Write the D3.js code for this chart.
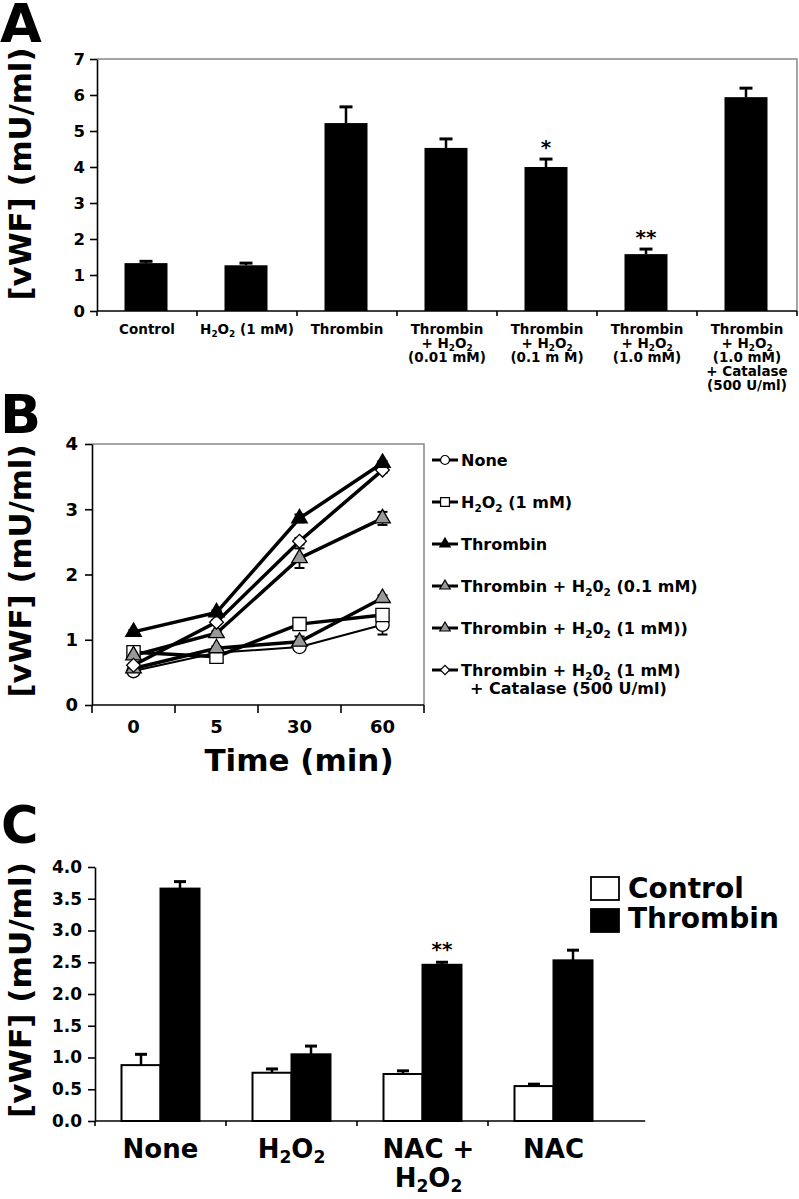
<!DOCTYPE html>
<html><head><meta charset="utf-8">
<script src="https://cdn.jsdelivr.net/npm/d3@7"></script>
<style>
body{margin:0;background:#fff}
svg{display:block}
text{font-family:"DejaVu Sans",sans-serif;font-weight:bold;fill:#000}
</style>
</head><body>
<svg id="chart" width="799" height="1199"></svg>
<script>
// ---------------- Panel A data ----------------
const labelsA = [
  ["Control"],
  ["H_2O_2 (1 mM)"],
  ["Thrombin"],
  ["Thrombin", "+ H_2O_2", "(0.01 mM)"],
  ["Thrombin", "+ H_2O_2", "(0.1 m M)"],
  ["Thrombin", "+ H_2O_2", "(1.0 mM)"],
  ["Thrombin", "+ H_2O_2", "(1.0 mM)", "+ Catalase", "(500 U/ml)"]
];
const valuesA = [1.33, 1.27, 5.22, 4.53, 4.00, 1.58, 5.94];
const errorsA = [0.05, 0.06, 0.45, 0.25, 0.22, 0.14, 0.25];
const sigA = ["", "", "", "", "*", "**", ""];
const yTicksA = [0, 1, 2, 3, 4, 5, 6, 7];

// ---------------- Panel B data ----------------
const timesB = ["0", "5", "30", "60"];
const yTicksB = [0, 1, 2, 3, 4];
const noneB = [0.52, 0.80, 0.89, 1.23];
const noneErrB = [0.03, 0.03, 0.03, 0.15];
const h2o2B = [0.81, 0.74, 1.24, 1.38];
const h2o2ErrB = [0.03, 0.03, 0.03, 0.05];
const thrombinB = [1.12, 1.42, 2.86, 3.71];
const thrombinErrB = [0.03, 0.03, 0.06, 0.03];
const thr01B = [0.76, 1.10, 2.25, 2.86];
const thr01ErrB = [0.03, 0.03, 0.15, 0.10];
const thr1B = [0.56, 0.87, 0.97, 1.64];
const thr1ErrB = [0.03, 0.03, 0.08, 0.04];
const catalaseB = [0.61, 1.27, 2.51, 3.60];
const catalaseErrB = [0.03, 0.03, 0.05, 0.04];
const legendB = [
  ["None"],
  ["H_2O_2 (1 mM)"],
  ["Thrombin"],
  ["Thrombin + H_20_2 (0.1 mM)"],
  ["Thrombin + H_20_2 (1 mM))"],
  ["Thrombin + H_20_2 (1 mM)", "+ Catalase (500 U/ml)"]
];

// ---------------- Panel C data ----------------
const groupsC = [["None"], ["H_2O_2"], ["NAC +", "H_2O_2"], ["NAC"]];
const seriesC = ["Control", "Thrombin"];
const controlC = [0.88, 0.76, 0.74, 0.55];
const controlErrC = [0.17, 0.06, 0.05, 0.03];
const thrombinC = [3.66, 1.05, 2.46, 2.53];
const thrombinErrC = [0.11, 0.13, 0.04, 0.16];
const sigC = ["", "", "**", ""];
const yTicksC = [0, 0.5, 1, 1.5, 2, 2.5, 3, 3.5, 4];

// ---------------- helpers ----------------
const svg = d3.select("#chart");

function rich(sel, str, fs, shift) {
  const sh = shift === undefined ? 0.26 : shift;
  const parts = str.split(/(_\d)/).filter(p => p.length);
  let lowered = false;
  parts.forEach(p => {
    if (p[0] === "_") {
      sel.append("tspan").attr("font-size", fs * 0.66).attr("dy", lowered ? 0 : fs * sh).text(p.slice(1));
      lowered = true;
    } else {
      const t = sel.append("tspan").text(p);
      if (lowered) { t.attr("dy", -fs * sh); lowered = false; }
    }
  });
  return sel;
}
function styleAxis(g, fs) {
  g.select(".domain").attr("stroke", "#000").attr("stroke-width", 1.6);
  g.selectAll(".tick line").attr("stroke", "#000").attr("stroke-width", 1.6);
  g.selectAll(".tick text").attr("font-size", fs).attr("font-family", "DejaVu Sans").attr("font-weight", "bold").attr("fill", "#000");
}
function yLabel(x, cy, len, fs) {
  svg.append("text").attr("transform", `translate(${x},${cy}) rotate(-90)`)
    .attr("text-anchor", "middle").attr("font-size", fs)
    .attr("textLength", len).attr("lengthAdjust", "spacingAndGlyphs")
    .text("[vWF] (mU/ml)");
}
function errBar(g, cx, yTop, yErr, cap, w) {
  g.append("line").attr("x1", cx).attr("x2", cx).attr("y1", yTop).attr("y2", yErr)
    .attr("stroke", "#000").attr("stroke-width", w);
  g.append("line").attr("x1", cx - cap / 2).attr("x2", cx + cap / 2).attr("y1", yErr).attr("y2", yErr)
    .attr("stroke", "#000").attr("stroke-width", 3);
}

// ======================= PANEL A =======================
{
  const xA = d3.scaleBand().domain(d3.range(labelsA.length)).range([97, 797]);
  const yA = d3.scaleLinear().domain([0, 7]).range([311, 59]);
  const g = svg.append("g");
  svg.append("text").attr("x", 0).attr("y", 42).attr("font-size", 54).text("A");

  g.append("path").attr("d", `M${xA.range()[0]},${yA(7)}H${xA.range()[1]}V${yA(0)}`)
    .attr("fill", "none").attr("stroke", "#888").attr("stroke-width", 1.5);

  const bw = xA.step() * 0.43;
  const cx = i => xA(i) + xA.step() / 2 - 1;
  g.selectAll("rect.bar").data(valuesA).join("rect").attr("class", "bar")
    .attr("x", (d, i) => cx(i) - bw / 2).attr("width", bw)
    .attr("y", d => yA(d)).attr("height", d => yA(0) - yA(d)).attr("fill", "#000");
  valuesA.forEach((v, i) => errBar(g, cx(i), yA(v), yA(v + errorsA[i]), 13, 2.5));
  sigA.forEach((s, i) => {
    if (s) g.append("text").attr("x", cx(i)).attr("y", yA(valuesA[i] + errorsA[i]) - 5)
      .attr("text-anchor", "middle").attr("font-size", 20).text(s);
  });

  const ax = g.append("g").attr("transform", `translate(${xA.range()[0]},0)`)
    .call(d3.axisLeft(yA).tickValues(yTicksA).tickSize(7).tickSizeOuter(0).tickPadding(5).tickFormat(d3.format("d")));
  styleAxis(ax, 16.5);
  g.append("line").attr("x1", xA.range()[0]).attr("x2", xA.range()[1]).attr("y1", yA(0)).attr("y2", yA(0))
    .attr("stroke", "#000").attr("stroke-width", 1.6);
  d3.range(labelsA.length + 1).forEach(i => {
    const x = i < labelsA.length ? xA(i) : xA.range()[1];
    g.append("line").attr("x1", x).attr("x2", x).attr("y1", yA(0)).attr("y2", yA(0) + 5)
      .attr("stroke", "#000").attr("stroke-width", 1.6);
  });
  labelsA.forEach((lines, i) => {
    lines.forEach((ln, j) => {
      const t = g.append("text").attr("x", xA(i) + xA.step() / 2).attr("y", 334 + j * 14)
        .attr("text-anchor", "middle").attr("font-size", 13.5);
      rich(t, ln, 13.5, 0.2);
    });
  });
  yLabel(31, 174, 253, 31);
}

// ======================= PANEL B =======================
{
  const xB = d3.scaleBand().domain(timesB).range([92, 424]);
  const yB = d3.scaleLinear().domain([0, 4]).range([705, 444]);
  const g = svg.append("g");
  svg.append("text").attr("x", 0).attr("y", 433).attr("font-size", 54).text("B");

  g.append("path").attr("d", `M${xB.range()[0]},${yB(4)}H${xB.range()[1]}V${yB(0)}`)
    .attr("fill", "none").attr("stroke", "#888").attr("stroke-width", 1.5);

  const series = [
    { v: noneB, e: noneErrB, sym: d3.symbolCircle, size: 140, fill: "#fff", rot: 0, lw: 2 },
    { v: h2o2B, e: h2o2ErrB, sym: d3.symbolSquare, size: 175, fill: "#fff", rot: 0, lw: 3.5 },
    { v: thr1B, e: thr1ErrB, sym: d3.symbolTriangle, size: 105, fill: "#999", rot: 0, lw: 3.5 },
    { v: thr01B, e: thr01ErrB, sym: d3.symbolTriangle, size: 105, fill: "#999", rot: 0, lw: 3.5 },
    { v: catalaseB, e: catalaseErrB, sym: d3.symbolSquare, size: 95, fill: "#fff", rot: 45, lw: 3.5 },
    { v: thrombinB, e: thrombinErrB, sym: d3.symbolTriangle, size: 105, fill: "#000", rot: 0, lw: 3.5 }
  ];
  const px = i => xB(timesB[i]) + xB.bandwidth() / 2;
  const line = d3.line().x((d, i) => px(i)).y(d => yB(d));
  series.forEach(s => {
    g.append("path").attr("d", line(s.v)).attr("fill", "none").attr("stroke", "#000").attr("stroke-width", s.lw);
  });
  series.forEach(s => {
    s.v.forEach((v, i) => {
      const x = px(i);
      [1, -1].forEach(sg => {
        g.append("line").attr("x1", x).attr("x2", x).attr("y1", yB(v)).attr("y2", yB(v + sg * s.e[i]))
          .attr("stroke", "#000").attr("stroke-width", 1.8);
        g.append("line").attr("x1", x - 5).attr("x2", x + 5).attr("y1", yB(v + sg * s.e[i])).attr("y2", yB(v + sg * s.e[i]))
          .attr("stroke", "#000").attr("stroke-width", 2);
      });
    });
  });
  series.forEach(s => {
    s.v.forEach((v, i) => {
      g.append("path").attr("d", d3.symbol(s.sym, s.size)())
        .attr("transform", `translate(${px(i)},${yB(v)}) rotate(${s.rot})`)
        .attr("fill", s.fill).attr("stroke", "#000").attr("stroke-width", 1.3);
    });
  });

  const ax = g.append("g").attr("transform", `translate(${xB.range()[0]},0)`)
    .call(d3.axisLeft(yB).tickValues(yTicksB).tickSize(7).tickSizeOuter(0).tickPadding(7).tickFormat(d3.format("d")));
  styleAxis(ax, 18);
  g.append("line").attr("x1", xB.range()[0]).attr("x2", xB.range()[1]).attr("y1", yB(0)).attr("y2", yB(0))
    .attr("stroke", "#000").attr("stroke-width", 1.6);
  d3.range(timesB.length + 1).forEach(i => {
    const x = i < timesB.length ? xB(timesB[i]) : xB.range()[1];
    g.append("line").attr("x1", x).attr("x2", x).attr("y1", yB(0)).attr("y2", yB(0) + 8)
      .attr("stroke", "#000").attr("stroke-width", 1.6);
  });
  timesB.forEach((t, i) => {
    g.append("text").attr("x", px(i)).attr("y", 733).attr("text-anchor", "middle").attr("font-size", 18).text(t);
  });
  g.append("text").attr("x", 299).attr("y", 771).attr("text-anchor", "middle").attr("font-size", 31).text("Time (min)");
  yLabel(31, 571, 253, 31);

  // legend
  const legOrder = [0, 1, 5, 3, 2, 4];
  legendB.forEach((lines, k) => {
    const s = series[legOrder[k]];
    const cy = 460 + k * 42;
    g.append("line").attr("x1", 432).attr("x2", 458).attr("y1", cy).attr("y2", cy)
      .attr("stroke", "#000").attr("stroke-width", 3);
    g.append("path").attr("d", d3.symbol(s.sym, s.size * 0.45)())
      .attr("transform", `translate(445,${cy}) rotate(${s.rot})`)
      .attr("fill", s.fill).attr("stroke", "#000").attr("stroke-width", 1.2);
    lines.forEach((ln, j) => {
      const t = g.append("text").attr("x", j === 0 ? 461 : 470).attr("y", cy + 6 + j * 18).attr("font-size", 16);
      rich(t, ln, 16, 0.22);
    });
  });
}

// ======================= PANEL C =======================
{
  const xC = d3.scaleBand().domain(d3.range(groupsC.length)).range([95, 619]);
  const yC = d3.scaleLinear().domain([0, 4]).range([1121, 867]);
  const sub = d3.scaleBand().domain(seriesC).range([-39, 39]);
  const g = svg.append("g");
  svg.append("text").attr("x", 1).attr("y", 843).attr("font-size", 51).text("C");

  const cx = i => xC(i) + xC.step() / 2;
  const data = [controlC, thrombinC], errs = [controlErrC, thrombinErrC], fills = ["#fff", "#000"];
  seriesC.forEach((s, k) => {
    g.selectAll(`rect.s${k}`).data(data[k]).join("rect").attr("class", `s${k}`)
      .attr("x", (d, i) => cx(i) + sub(s)).attr("width", sub.bandwidth())
      .attr("y", d => yC(d)).attr("height", d => yC(0) - yC(d))
      .attr("fill", fills[k]).attr("stroke", "#000").attr("stroke-width", 2);
  });
  seriesC.forEach((s, k) => {
    data[k].forEach((v, i) => errBar(g, cx(i) + sub(s) + sub.bandwidth() / 2, yC(v), yC(v + errs[k][i]), 12, 2.5));
  });
  sigC.forEach((s, i) => {
    if (s) g.append("text").attr("x", cx(i) + sub("Thrombin") + sub.bandwidth() / 2)
      .attr("y", yC(thrombinC[i] + thrombinErrC[i]) - 6).attr("text-anchor", "middle").attr("font-size", 20).text(s);
  });

  const ax = g.append("g").attr("transform", `translate(${xC.range()[0]},0)`)
    .call(d3.axisLeft(yC).tickValues(yTicksC).tickSize(7).tickSizeOuter(0).tickPadding(6).tickFormat(d3.format(".1f")));
  styleAxis(ax, 17);
  g.append("line").attr("x1", xC.range()[0]).attr("x2", xC.range()[1] + xC.step() * 0.2).attr("y1", yC(0)).attr("y2", yC(0))
    .attr("stroke", "#000").attr("stroke-width", 1.6);
  d3.range(groupsC.length).forEach(i => {
    g.append("line").attr("x1", xC(i)).attr("x2", xC(i)).attr("y1", yC(0)).attr("y2", yC(0) + 5)
      .attr("stroke", "#000").attr("stroke-width", 1.6);
  });
  groupsC.forEach((lines, i) => {
    lines.forEach((ln, j) => {
      const t = g.append("text").attr("x", cx(i) + (lines.length > 1 ? 6 : 0)).attr("y", 1158 + j * 29)
        .attr("text-anchor", "middle").attr("font-size", 26);
      rich(t, ln, 26, 0.18);
    });
  });
  yLabel(31, 990, 256, 31);

  // legend
  seriesC.forEach((s, k) => {
    g.append("rect").attr("x", 591).attr("y", 877 + k * 32).attr("width", 28).attr("height", 23)
      .attr("fill", fills[k]).attr("stroke", "#000").attr("stroke-width", 1.8);
    g.append("text").attr("x", 628).attr("y", 898 + k * 30).attr("font-size", 28).text(s);
  });
}
</script>
</body></html>
